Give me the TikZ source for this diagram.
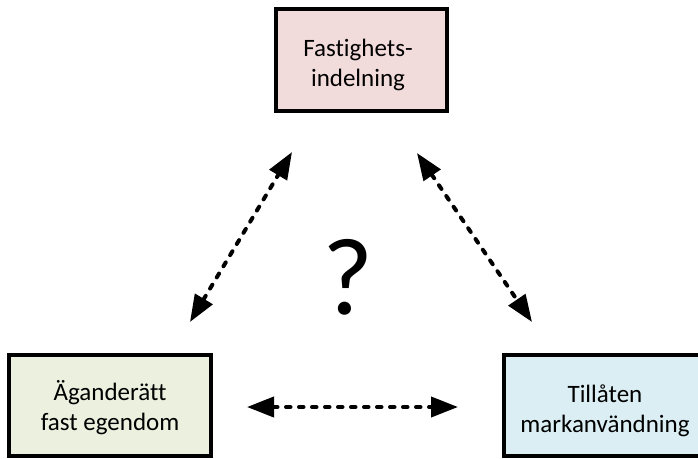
\documentclass[tikz,border=0pt]{standalone}
\usepackage{fontspec}
\setmainfont{Carlito}[Ligatures=NoCommon]
\usetikzlibrary{arrows.meta}
\definecolor{boxpink}{HTML}{F2DCDB}
\definecolor{boxgreen}{HTML}{EBF1DE}
\definecolor{boxblue}{HTML}{DBEEF3}
\begin{document}
\begin{tikzpicture}[x=1pt,y=-1pt,
  conceptbox/.style={draw=black, line width=4pt, minimum width=202pt, minimum height=101pt, inner sep=0pt},
  boxtext/.style={align=center, inner sep=0pt, font=\fontsize{25}{30}\selectfont},
  linkarrow/.style={line width=4pt, dash pattern=on 4.5pt off 8.5pt, line cap=round,
    {Triangle[length=27pt,width=20pt]}-{Triangle[length=27pt,width=20pt]}}]
  \useasboundingbox (0,0) rectangle (698,458);
  \clip (0,0) rectangle (698,458);

  % the three concept boxes
  \node[conceptbox, fill=boxpink, minimum width=171pt, minimum height=102pt] (fi) at (361.5,60) {};
  \node[conceptbox, fill=boxgreen] (ag) at (110,405.5) {};
  \node[conceptbox, fill=boxblue] (ma) at (605,405.5) {};

  \node[boxtext] (fi-t) at (358,65) {Fastighets-\\indelning};
  \node[boxtext] (ag-t) at (110,408) {Äganderätt\\fast egendom};
  \node[boxtext] (ma-t) at (605,411) {Tillåten\\markanvändning};

  % the open question in the middle
  \node[font=\fontsize{110}{115}\selectfont, inner sep=0pt] (q) at (348,277) {?};

  % end points of the two-way links
  \coordinate (l1) at (190,322);
  \coordinate (l2) at (292,152);
  \coordinate (r1) at (417,153);
  \coordinate (r2) at (532,322);
  \coordinate (h1) at (247,407);
  \coordinate (h2) at (458,407);

  \draw[linkarrow] (l1) -- (l2);
  \draw[linkarrow] (r1) -- (r2);
  \draw[linkarrow] (h1) -- (h2);
\end{tikzpicture}
\end{document}
